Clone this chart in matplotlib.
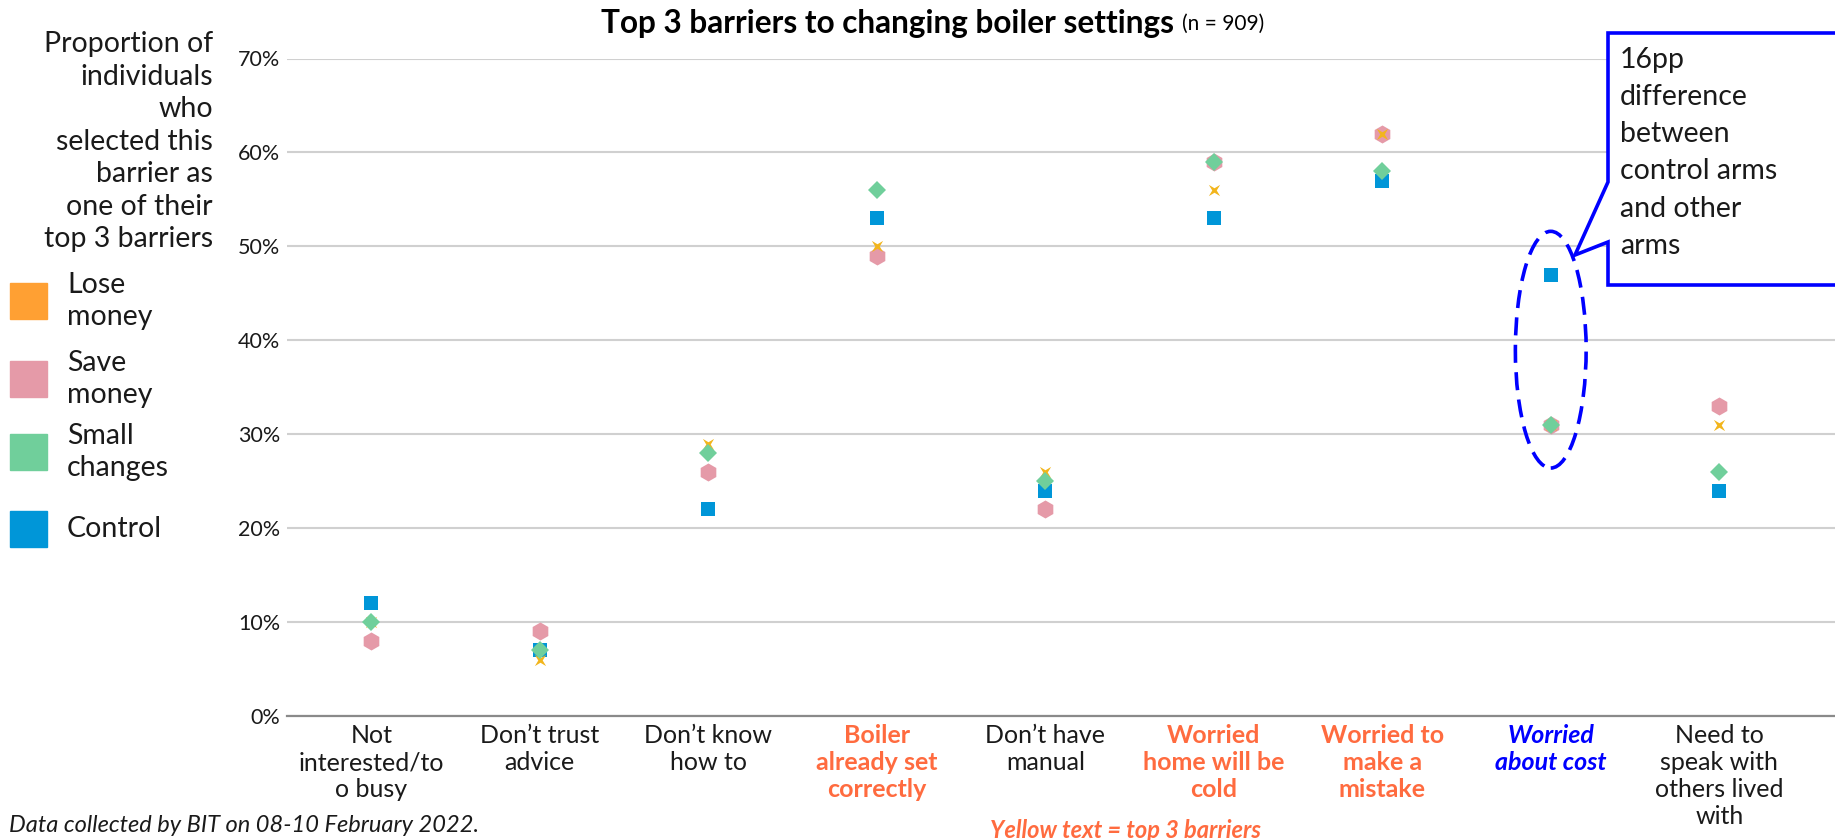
import matplotlib
matplotlib.use('Agg')
import matplotlib.pyplot as plt
from matplotlib.patches import Rectangle, Polygon, Ellipse
from matplotlib.path import Path
from matplotlib.markers import MarkerStyle
from matplotlib.transforms import Affine2D
from matplotlib.ticker import FuncFormatter

plt.rcParams['font.family'] = ['Lato', 'DejaVu Sans']

# ---------------- data ----------------
categories = [
    "Not\ninterested/to\no busy",
    "Don\u2019t trust\nadvice",
    "Don\u2019t know\nhow to",
    "Boiler\nalready set\ncorrectly",
    "Don\u2019t have\nmanual",
    "Worried\nhome will be\ncold",
    "Worried to\nmake a\nmistake",
    "Worried\nabout cost",
    "Need to\nspeak with\nothers lived\nwith",
]
category_kind = ["plain", "plain", "plain", "top", "plain", "top", "top", "focus", "plain"]

series_names = ["Lose money", "Save money", "Small changes", "Control"]
lose_money = [10, 6, 29, 50, 26, 56, 62, 31, 31]
save_money = [8, 9, 26, 49, 22, 59, 62, 31, 33]
small_changes = [10, 7, 28, 56, 25, 59, 58, 31, 26]
control = [12, 7, 22, 53, 24, 53, 57, 47, 24]

yticks = [0, 10, 20, 30, 40, 50, 60, 70]

# ---------------- styles ----------------
W, H = 1835, 840
def fx(px):
    return px / W
def fy(py):
    return 1 - py / H

legend_colors = {"Lose money": "#FFA033", "Save money": "#E59AA8",
                 "Small changes": "#70CF9B", "Control": "#0096D8"}
marker_colors = {"Lose money": "#F2B51C", "Save money": "#E59AA8",
                 "Small changes": "#70CF9B", "Control": "#0096D8"}
star = MarkerStyle(Path.unit_regular_star(4, innerCircle=0.28),
                   transform=Affine2D().rotate_deg(45))
marker_styles = {"Lose money": (star, 11.5, 5),
                 "Save money": ("h", 13, 4),
                 "Small changes": ("D", 9, 6),
                 "Control": ("s", 9.5, 3)}
label_color = {"plain": "#1a1a1a", "top": "#FF6B3F", "focus": "#0000FF"}
BLUE = "#0000FF"
TXT = "#1a1a1a"

fig = plt.figure(figsize=(W / 100, H / 100), dpi=100)
ax = fig.add_axes([fx(287), fy(716), fx(1835 - 287), (716 - 58.5) / H])

xs = list(range(len(categories)))
data = {"Lose money": lose_money, "Save money": save_money,
        "Small changes": small_changes, "Control": control}
for name in series_names:
    m, ms, z = marker_styles[name]
    ax.plot(xs, data[name], linestyle="none", marker=m, markersize=ms,
            color=marker_colors[name], markeredgewidth=0, zorder=z)

ax.set_xlim(-0.5, (1835 - 287) / 168.5 - 0.5)
ax.set_ylim(0, 70)
ax.set_yticks(yticks)
ax.yaxis.set_major_formatter(FuncFormatter(lambda v, _: f"{v:.0f}%"))
ax.yaxis.grid(True, color="#D0D0D0", linewidth=1.5)
ax.set_axisbelow(True)
for s in ["top", "right", "left"]:
    ax.spines[s].set_visible(False)
ax.spines["bottom"].set_color("#8A8A8A")
ax.spines["bottom"].set_linewidth(1.6)
ax.spines["bottom"].set_zorder(2)
ax.tick_params(axis="y", length=0, pad=5, labelsize=15.5, labelcolor=TXT)
ax.tick_params(axis="x", length=0, pad=6, labelsize=18)
ax.set_xticks(xs)
ax.set_xticklabels(categories, linespacing=1.2)
for lab, kind in zip(ax.get_xticklabels(), category_kind):
    lab.set_color(label_color[kind])
    if kind == "top":
        lab.set_fontweight("bold")
    elif kind == "focus":
        lab.set_fontweight("bold")
        lab.set_fontstyle("italic")

# dashed ellipse around "Worried about cost"
ax.add_patch(Ellipse((7, 39), width=0.42, height=25.2, fill=False,
                     edgecolor=BLUE, linewidth=2.6, linestyle=(0, (5, 2.6)), zorder=8))

# title
fig.text(fx(1174), fy(23), "Top 3 barriers to changing boiler settings",
         ha="right", va="center", fontsize=22.7, fontweight="bold", color="black")
fig.text(fx(1182), fy(24), "(n = 909)", ha="left", va="center", fontsize=15,
         color="black")

# y-axis description
fig.text(fx(213), fy(31),
         "Proportion of\nindividuals\nwho\nselected this\nbarrier as\none of their\ntop 3 barriers",
         ha="right", va="top", fontsize=20.5, linespacing=1.31, color=TXT)

# legend
legend_labels = ["Lose\nmoney", "Save\nmoney", "Small\nchanges", "Control"]
legend_y = [301, 379, 452, 529]
for name, lab, cy in zip(series_names, legend_labels, legend_y):
    fig.patches.append(Rectangle((fx(10), fy(cy + 18)), 37 / W, 36 / H,
                                 transform=fig.transFigure, color=legend_colors[name]))
    fig.text(fx(67), fy(cy), lab, ha="left", va="center", fontsize=20.5,
             linespacing=1.27, color=TXT)

# callout
pts = [(1608, 33), (1608, 182), (1575, 255), (1608, 242), (1608, 285),
       (1850, 285), (1850, 33)]
fig.patches.append(Polygon([(fx(x), fy(y)) for x, y in pts], closed=True,
                           transform=fig.transFigure, facecolor="white",
                           edgecolor=BLUE, linewidth=2.6, zorder=10))
fig.text(fx(1620), fy(47), "16pp\ndifference\nbetween\ncontrol arms\nand other\narms",
         ha="left", va="top", fontsize=20.5, linespacing=1.53, color=TXT, zorder=11)

# footnotes
fig.text(fx(9), fy(825), "Data collected by BIT on 08-10 February 2022.",
         ha="left", va="center", fontsize=17, fontstyle="italic", color=TXT)
fig.text(fx(1126), fy(830), "Yellow text = top 3 barriers", ha="center", va="center",
         fontsize=17, fontstyle="italic", fontweight="bold", color="#FF6B3F")

fig.savefig("out.png", dpi=100)
